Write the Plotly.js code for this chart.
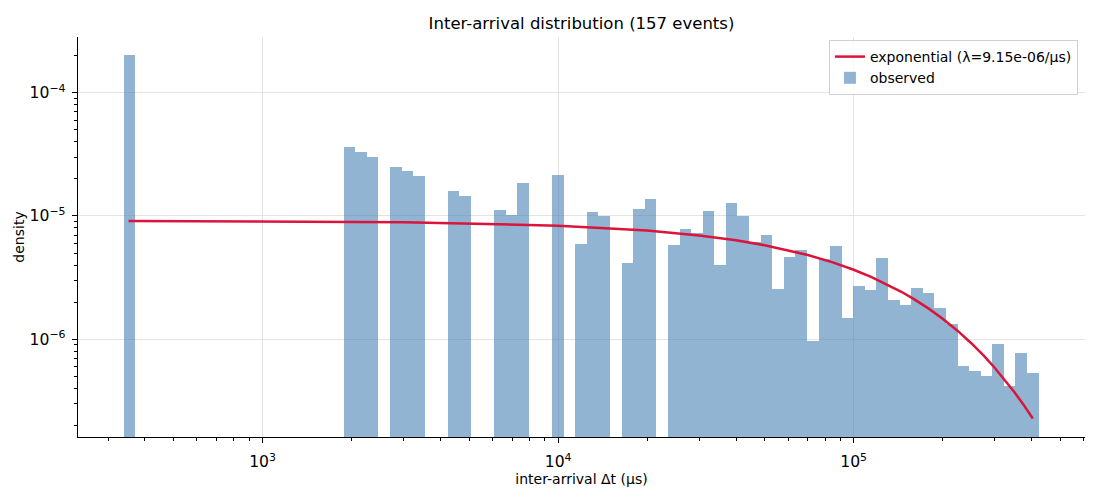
<!DOCTYPE html>
<html>
<head>
<meta charset="utf-8">
<script src="https://cdn.plot.ly/plotly-3.0.1.min.js"></script>
<style>html,body{margin:0;padding:0;background:#fff}#chart{width:1100px;height:500px}</style>
</head>
<body>
<div id="chart"></div>
<script>
// ---- data ----
const nEvents = 157;
const minGap = 338.5;      // µs, left edge of first bin
const maxGap = 422500;     // µs, right edge of last bin
const nBins = 79;          // log-spaced bins
const binCounts = [
  1, 0,0,0,0,0,0,0,0,0,0,0,0,0,0,0,0,0,0,
  1,1,1,0,1,1,1,0,0,1,
  1,0,0,1,1,2,0,0,3,0,
  1,2,2,0,1,3,4,0,2,3,
  3,5,2,7,6,4,5,2,4,5,
  1,5,7,2,4,4,8,4,4,6,
  6,5,4,2,2,2,4,2,4,3
];
const fitLabel = 'exponential (λ=9.15e-06/µs)';
const fitX = [352, 1000, 3000, 10000, 20000, 30000, 40000, 50000, 60000, 70000, 85000,
  100000, 115000, 130000, 145000, 160000, 180000, 200000, 225000, 250000, 275000,
  300000, 325000, 350000, 375000, 403700];
const fitY = [9.1205e-6, 9.067e-6, 8.902e-6, 8.350e-6, 7.620e-6, 6.954e-6, 6.346e-6, 5.791e-6,
  5.284e-6, 4.822e-6, 4.204e-6, 3.665e-6, 3.195e-6, 2.785e-6, 2.428e-6, 2.116e-6, 1.763e-6,
  1.468e-6, 1.168e-6, 9.289e-7, 7.390e-7, 5.879e-7, 4.677e-7, 3.720e-7, 2.960e-7, 2.276e-7];

// ---- histogram (density) from counts ----
const lo = Math.log10(minGap), hi = Math.log10(maxGap);
const edges = [];
for (let i = 0; i <= nBins; i++) edges.push(Math.pow(10, lo + (hi - lo) * i / nBins));
const nGaps = binCounts.reduce((a, b) => a + b, 0);
const barX = [], barW = [], barY = [];
binCounts.forEach((c, k) => {
  if (c > 0) {
    const w = edges[k + 1] - edges[k];
    barX.push((edges[k] + edges[k + 1]) / 2);
    barW.push(w);
    barY.push(c / (nGaps * w));
  }
});

const traces = [
  {
    type: 'scatter', mode: 'lines', x: fitX, y: fitY, name: fitLabel,
    line: {color: '#DC143C', width: 2.5}
  },
  {
    type: 'bar', x: barX, y: barY, width: barW, name: 'observed',
    marker: {color: 'rgba(70,130,180,0.6)', line: {width: 0}}
  }
];

const axisCommon = {
  type: 'log', dtick: 1, exponentformat: 'power', showexponent: 'all',
  showgrid: true, gridcolor: '#e3e3e3', gridwidth: 1,
  ticks: 'outside', ticklen: 5, tickwidth: 1, tickcolor: 'black',
  showline: true, linecolor: 'black', linewidth: 1, zeroline: false,
  minor: {ticks: 'outside', ticklen: 3, tickwidth: 1, tickcolor: 'black', dtick: 'D1', showgrid: false},
  tickfont: {family: 'DejaVu Sans', size: 12.5, color: 'black'}
};

const layout = {
  width: 1100, height: 500,
  margin: {l: 78, r: 15, t: 37, b: 63},
  paper_bgcolor: 'white', plot_bgcolor: 'white',
  font: {family: 'DejaVu Sans', size: 14, color: 'black'},
  title: {text: 'Inter-arrival distribution (157 events)', font: {family: 'DejaVu Sans', size: 16.5, color: 'black'},
          x: 0.5, xref: 'paper', xanchor: 'center', y: 0.954, yref: 'container', yanchor: 'middle'},
  xaxis: Object.assign({}, axisCommon, {
    range: [2.3756, 5.7827],
    ticklabelstandoff: 6,
    title: {text: 'inter-arrival Δt (µs)', font: {family: 'DejaVu Sans', size: 14}, standoff: 2}
  }),
  yaxis: Object.assign({}, axisCommon, {
    range: [-6.793, -3.548],
    ticklabelstandoff: 4,
    title: {text: 'density', font: {family: 'DejaVu Sans', size: 14}, standoff: 1}
  }),
  showlegend: true,
  legend: {x: 0.993, y: 0.9925, xanchor: 'right', yanchor: 'top',
           bgcolor: 'rgba(255,255,255,0.8)', bordercolor: '#d0d0d0', borderwidth: 1,
           font: {family: 'DejaVu Sans', size: 14}, traceorder: 'normal'},
  bargap: 0
};

Plotly.newPlot('chart', traces, layout, {displayModeBar: false, staticPlot: true});
</script>
</body>
</html>
